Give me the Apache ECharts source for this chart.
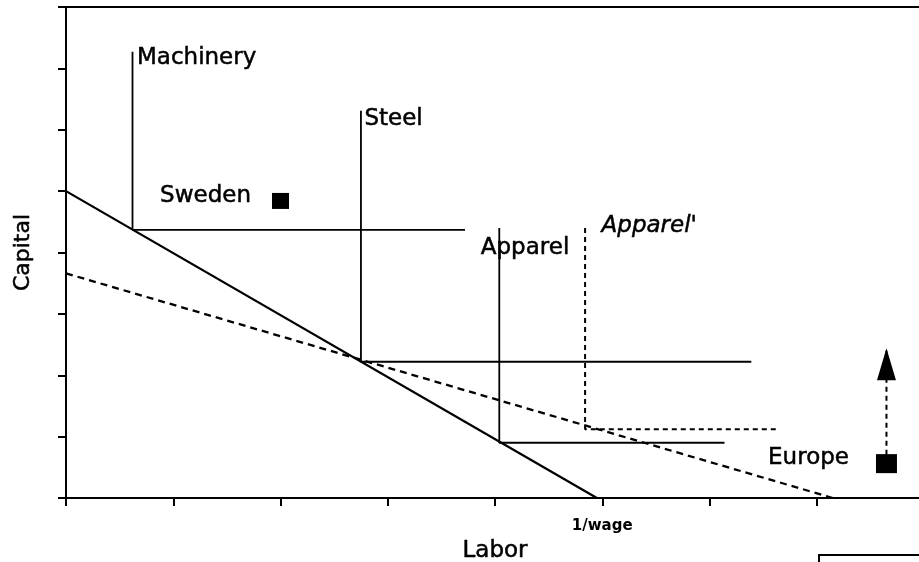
<!DOCTYPE html>
<html>
<head>
<meta charset="utf-8">
<script src="https://cdn.jsdelivr.net/npm/echarts@6/dist/echarts.min.js"></script>
<style>
html,body{margin:0;padding:0;background:#fff;}
#main{width:919px;height:562px;}
</style>
</head>
<body>
<div id="main"></div>
<script>
// 轴刻度：劳动/资本都按 1 个单位一格
var xTicks = [0, 1, 2, 3, 4, 5, 6, 7, 8];
var xTickLabels = {5: '1/wage'};

// 等成本线（实线：原工资；虚线：新工资）
var budget = [[0, 5.0], [4.95, 0]];
var budgetNew = [[0, 3.66], [7.15, 0]];

// 各行业的等产量线（L 形）
var machinery = [[0.62, 7.27], [0.62, 4.37], [3.72, 4.37]];
var steel = [[2.75, 6.31], [2.75, 2.22], [6.39, 2.22]];
var apparel = [[4.04, 4.40], [4.04, 0.90], [6.14, 0.90]];
var apparelNew = [[4.84, 4.40], [4.84, 1.12], [6.62, 1.12]];

// 国家禀赋点
var sweden = [2.0, 4.84];
var europe = [7.65, 0.56];
var europeShift = [[7.65, 0.56], [7.65, 2.44]];

var FONT = 'DejaVu Sans';
var myChart = echarts.init(document.getElementById('main'));

function seg(data, dashed, width){
    return {
        type: 'line',
        data: data,
        symbol: 'none',
        silent: true,
        lineStyle: {color: '#000', width: width || 1.8, type: dashed ? dashed : 'solid'}
    };
}

// 文字标签挂在对应图形上，偏移量单位是像素
var labelItems = [
    {value: machinery[0], name: 'Machinery', label: {position: [5, 7], align: 'left'}},
    {value: steel[0], name: 'Steel', label: {position: [4, 9], align: 'left'}},
    {value: apparel[0], name: 'Apparel', label: {position: [-18, 21], align: 'left'}},
    {value: apparelNew[0], name: "Apparel'", label: {position: [17, -1], align: 'left', fontStyle: 'italic'}},
    {value: sweden, name: 'Sweden', label: {position: [-29, -4], align: 'right'}},
    {value: europe, name: 'Europe', label: {position: [-37, -5], align: 'right'}}
];

var opt = {
    animation: false,
    grid: {
        left: 66,
        top: 7,
        width: 858,
        height: 491,
        outerBoundsMode: 'none',
        containLabel: false,
        show: true,
        borderColor: '#000',
        borderWidth: 2
    },
    xAxis: {
        type: 'value',
        min: xTicks[0],
        max: xTicks[xTicks.length - 1],
        interval: 1,
        axisLine: {lineStyle: {color: '#000', width: 2}},
        axisTick: {show: true, length: 8, lineStyle: {color: '#000', width: 2}},
        axisLabel: {
            margin: 21,
            color: '#000',
            fontFamily: FONT,
            fontWeight: 'bold',
            fontSize: 15,
            formatter: function(v){ return xTickLabels[v] || ''; }
        },
        splitLine: {show: false},
        name: 'Labor',
        nameLocation: 'middle',
        nameGap: 26,
        nameTextStyle: {color: '#000', fontFamily: FONT, fontSize: 23, textBorderColor: '#000', textBorderWidth: 0.5}
    },
    yAxis: {
        type: 'value',
        min: 0,
        max: 8,
        interval: 1,
        axisLine: {show: true, lineStyle: {color: '#000', width: 2}},
        axisTick: {show: true, length: 8, lineStyle: {color: '#000', width: 2}},
        axisLabel: {show: false},
        splitLine: {show: false},
        name: 'Capital',
        nameLocation: 'middle',
        nameRotate: 90,
        nameGap: 32,
        nameTextStyle: {color: '#000', fontFamily: FONT, fontSize: 22, textBorderColor: '#000', textBorderWidth: 0.5}
    },
    graphic: [{
        // 右下角下一张图的边框
        type: 'rect',
        shape: {x: 819, y: 555, width: 200, height: 60},
        style: {fill: 'none', stroke: '#000', lineWidth: 2},
        silent: true
    }],
    series: [
        seg(budget, null, 2.3),
        seg(budgetNew, [7, 5], 2.3),
        seg(machinery),
        seg(steel),
        seg(apparel),
        seg(apparelNew, [5, 4], 2),
        seg(europeShift, [5, 4], 2),
        {
            type: 'scatter',
            silent: true,
            data: [europeShift[1]],
            symbol: 'triangle',
            symbolSize: [19, 32],
            symbolOffset: [0, '50%'],
            itemStyle: {color: '#000', opacity: 1}
        },
        {
            type: 'scatter',
            silent: true,
            data: [sweden],
            symbol: 'rect',
            symbolSize: [17, 16],
            itemStyle: {color: '#000', opacity: 1}
        },
        {
            type: 'scatter',
            silent: true,
            data: [europe],
            symbol: 'rect',
            symbolSize: [21, 19],
            itemStyle: {color: '#000', opacity: 1}
        },
        {
            type: 'scatter',
            silent: true,
            z: 5,
            data: labelItems,
            symbolSize: 1,
            itemStyle: {color: 'rgba(0,0,0,0)', opacity: 1},
            label: {
                show: true,
                verticalAlign: 'middle',
                color: '#000',
                fontFamily: FONT,
                fontSize: 23,
                textBorderColor: '#000',
                textBorderWidth: 0.5,
                formatter: function(p){ return p.name; }
            }
        }
    ]
};

myChart.setOption(opt);
</script>
</body>
</html>
